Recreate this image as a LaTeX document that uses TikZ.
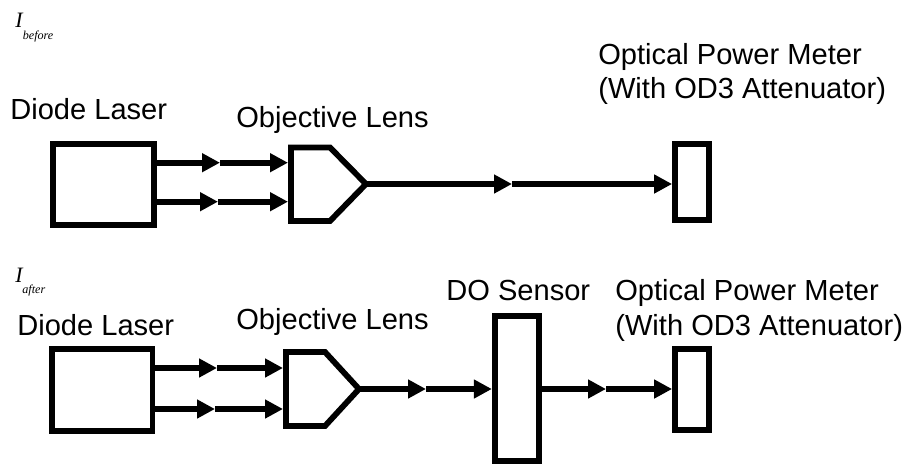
\documentclass[tikz,border=0pt]{standalone}
\usepackage{fontspec}
\setmainfont{Liberation Sans}
\newfontfamily\serifit[ItalicFont={Liberation Serif Italic}]{Liberation Serif}
\usetikzlibrary{arrows.meta}

\tikzset{
	label/.style={anchor=base west,inner sep=0pt,font=\fontsize{16.55}{18.8}\selectfont,align=left},
	bigi/.style={anchor=base west,inner sep=0pt,font=\serifit\itshape\fontsize{12.5}{13}\selectfont},
	smalli/.style={anchor=base west,inner sep=0pt,font=\serifit\itshape\fontsize{6.9}{8}\selectfont},
	block/.style={draw,line width=3.3pt,inner sep=0pt},
	beam/.style={line width=3.5pt,-{Triangle[length=0.36cm,width=0.36cm]}},
}

\begin{document}
\begin{tikzpicture}[x=0.02cm,y=-0.02cm]
				
				\useasboundingbox (0,0) rectangle (906,464);
				
				% Before
				\node[bigi] (ib) at (15,27) {I};
				\node[smalli] (ibs) at (22.5,39) {before};
				\node[label] (dla) at (10,119) {Diode Laser};
				\node[label] (ola) at (236,127) {Objective Lens};
				\node[label] (opa) at (598,98) {Optical Power Meter\\(With OD3 Attenuator)};
				
				\node[block,minimum width=2.03cm,minimum height=1.62cm] (lasera) at (103.5,184.5) {};
				\node[block,minimum width=0.68cm,minimum height=1.52cm] (metera) at (692,182) {};
				\draw[line width=3.3pt] (330,147.5) -- (366,184) -- (330,221) -- (291,221) -- (291,147.5) -- cycle;
				\coordinate (lensa) at (288,184);
				\coordinate (tipa) at (366,184);
				
				\coordinate (ua) at (220,162.7);
				\coordinate (va) at (218,201.7);
				\coordinate (ma) at (512,184);
				
				\draw[beam] (lasera.east |- ua) -- (ua);
				\draw[beam] (ua) -- (lensa |- ua);
				\draw[beam] (lasera.east |- va) -- (va);
				\draw[beam] (va) -- (lensa |- va);
				\draw[beam] (tipa) -- (ma);
				\draw[beam] (ma) -- (metera.west |- ma);
				
				% After
				\node[bigi] (ia) at (15,282) {I};
				\node[smalli] (ias) at (22,293.7) {after};
				\node[label] (dlb) at (17,335) {Diode Laser};
				\node[label] (olb) at (236,329) {Objective Lens};
				\node[label] (dol) at (446,300) {DO Sensor};
				\node[label] (opb) at (615,335) {Optical Power Meter\\[1pt](With OD3 Attenuator)};
				
				\node[block,minimum width=2.01cm,minimum height=1.65cm] (laserb) at (102.2,390) {};
				\node[block,minimum width=0.89cm,minimum height=2.9cm] (dob) at (517,388.5) {};
				\node[block,minimum width=0.68cm,minimum height=1.63cm] (meterb) at (692,389.5) {};
				\draw[line width=3.3pt] (325,352) -- (359,389) -- (325,426) -- (286,426) -- (286,352) -- cycle;
				\coordinate (lensb) at (283,389);
				\coordinate (tipb) at (359,389);
				
				\coordinate (ub) at (217,368);
				\coordinate (vb) at (215,409);
				\coordinate (mb) at (426,389);
				\coordinate (nb) at (606,389);
				
				\draw[beam] (laserb.east |- ub) -- (ub);
				\draw[beam] (ub) -- (lensb |- ub);
				\draw[beam] (laserb.east |- vb) -- (vb);
				\draw[beam] (vb) -- (lensb |- vb);
				\draw[beam] (tipb) -- (mb);
				\draw[beam] (mb) -- (dob.west |- mb);
				\draw[beam] (dob.east |- nb) -- (nb);
				\draw[beam] (nb) -- (meterb.west |- nb);
				
\end{tikzpicture}
\end{document}
